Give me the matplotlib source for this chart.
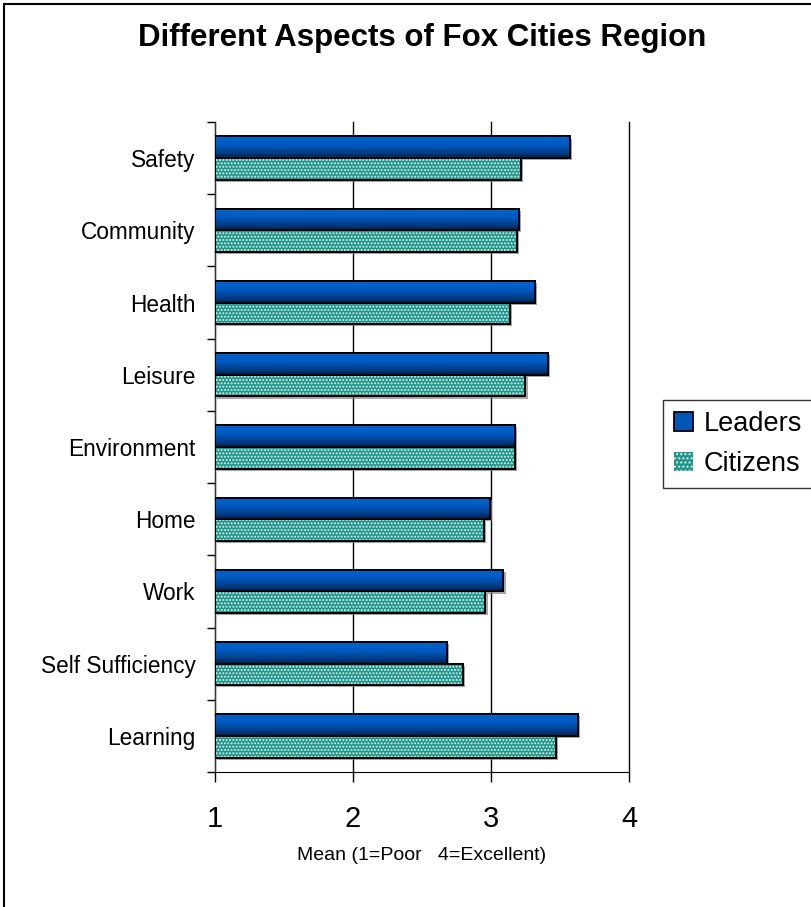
import numpy as np
import matplotlib
matplotlib.use("Agg")
import matplotlib.pyplot as plt
from matplotlib.patches import Patch, Rectangle
from matplotlib.colors import LinearSegmentedColormap
import matplotlib.patheffects as pe

categories = ["Safety", "Community", "Health", "Leisure", "Environment",
              "Home", "Work", "Self Sufficiency", "Learning"]
leaders = [3.57, 3.205, 3.32, 3.41, 3.175, 2.99, 3.09, 2.68, 3.63]
citizens = [3.22, 3.19, 3.135, 3.25, 3.175, 2.95, 2.96, 2.80, 3.47]
x_ticks = [1, 2, 3, 4]
title = "Different Aspects of Fox Cities Region"
xlabel = "Mean (1=Poor   4=Excellent)"
series_names = ["Leaders", "Citizens"]

plt.rcParams['font.family'] = ['Liberation Sans', 'DejaVu Sans']
plt.rcParams['hatch.linewidth'] = 1.0

W, H, DPI = 812, 907, 100
fig = plt.figure(figsize=(W / DPI, H / DPI), dpi=DPI)
ax = fig.add_axes([215 / W, 1 - 772 / H, (629 - 215) / W, (772 - 122) / H])

y = np.arange(len(categories))
bh = 0.3
lead_col = "#0056B4"
cit_col = "#1E948A"
shadow = [pe.SimplePatchShadow(offset=(1.5, -1.5), shadow_rgbFace='#808080', alpha=0.7), pe.Normal()]

vals_l = np.array(leaders) - x_ticks[0]
vals_c = np.array(citizens) - x_ticks[0]

bars_l = ax.barh(y - bh / 2, vals_l, height=bh, left=x_ticks[0], color=lead_col,
                 edgecolor='black', linewidth=1.3, zorder=3)
bars_c = ax.barh(y + bh / 2, vals_c, height=bh, left=x_ticks[0], color=cit_col,
                 edgecolor='black', linewidth=1.3, zorder=3)
for b in list(bars_l) + list(bars_c):
    b.set_path_effects(shadow)

# gradient fill for leaders bars
cmap = LinearSegmentedColormap.from_list(
    "blu", [(0.0, "#0064CC"), (0.4, "#005AC0"), (0.75, "#003E88"), (1.0, "#00224E")])
grad = np.linspace(0, 1, 64).reshape(-1, 1)
for b in bars_l:
    x0, y0 = b.get_x(), b.get_y()
    w, h = b.get_width(), b.get_height()
    im = ax.imshow(grad, cmap=cmap, aspect='auto', origin='upper',
                   extent=(x0, x0 + w, y0 + h, y0), zorder=3.5, interpolation='bilinear')
    im.set_clip_path(b)
    ax.add_patch(Rectangle((x0, y0), w, h, fill=False, edgecolor='black', linewidth=1.3, zorder=4))

# dotted pattern for citizens bars
for b in bars_c:
    ax.add_patch(Rectangle((b.get_x(), b.get_y()), b.get_width(), b.get_height(),
                           fill=False, hatch='.....', edgecolor='#d8f0ec', linewidth=0, zorder=3.6))
    ax.add_patch(Rectangle((b.get_x(), b.get_y()), b.get_width(), b.get_height(),
                           fill=False, edgecolor='black', linewidth=1.3, zorder=4))

ax.set_xlim(x_ticks[0], x_ticks[-1])
ax.set_ylim(len(categories) - 0.5, -0.5)
ax.set_xticks(x_ticks)
ax.set_xticklabels([str(t) for t in x_ticks], fontsize=21)
ax.set_yticks(y)
ax.set_yticklabels(categories, fontsize=16.3)
ax.set_yticks(np.arange(-0.5, len(categories)), minor=True)
ax.tick_params(axis='y', which='major', length=0, pad=14)
ax.tick_params(axis='y', which='minor', length=6, width=1, direction='out', color='black')
ax.tick_params(axis='x', which='major', length=7.5, width=1, direction='out', pad=16, color='black')
ax.xaxis.grid(True, color='black', linewidth=1)
for gl in ax.get_xgridlines():
    gl.set_clip_on(False)
ax.set_axisbelow(True)
for s in ['top', 'right']:
    ax.spines[s].set_visible(False)
ax.spines['left'].set_color('#333333')
ax.spines['bottom'].set_color('black')
ax.set_xlabel(xlabel, fontsize=14, labelpad=10)

fig.text(0.52, 1 - 38 / H, title, ha='center', va='center', fontsize=22.5, fontweight='bold')

handles = [Patch(facecolor=lead_col, edgecolor='black', linewidth=1.3),
           Patch(facecolor=cit_col, edgecolor='#d8f0ec', hatch='....', linewidth=0)]
leg = fig.legend(handles, series_names, loc='center left', bbox_to_anchor=(663 / W, 1 - 444 / H),
                 fontsize=19.5, frameon=True, fancybox=False, borderaxespad=0,
                 handlelength=0.7, handleheight=0.7, handletextpad=0.4, borderpad=0.4)
leg.get_frame().set_edgecolor('black')
leg.get_frame().set_linewidth(1.0)
leg.legend_handles[1].set_edgecolor('#d8f0ec')

fig.add_artist(Rectangle((4 / W, -0.5), 2, 1.5 - 4 / H, transform=fig.transFigure,
                         fill=False, edgecolor='black', linewidth=1.5))

fig.savefig("out.png", dpi=DPI)
